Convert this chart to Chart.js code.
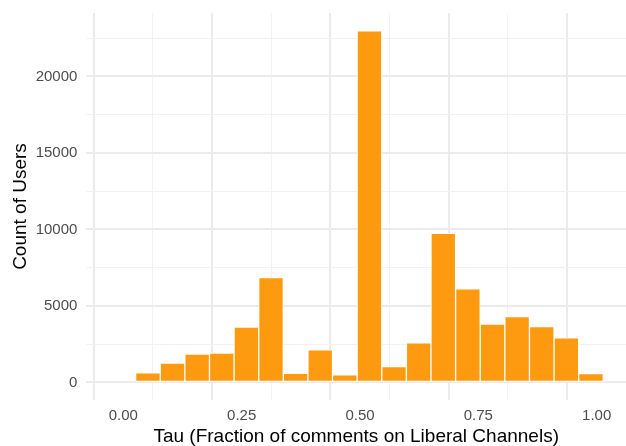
<!DOCTYPE html>
<html>
<head>
<meta charset="utf-8">
<script src="https://cdn.jsdelivr.net/npm/chart.js@4"></script>
<style>
  html, body { margin: 0; padding: 0; background: #ffffff; }
</style>
</head>
<body>
<canvas id="tauChart" width="626" height="446"></canvas>
<script>
// Histogram bins (centre of each bin on the tau axis) and user counts
const binCenters = [0.000, 0.052, 0.104, 0.156, 0.208, 0.260, 0.312, 0.364, 0.416, 0.468,
                    0.520, 0.572, 0.624, 0.676, 0.728, 0.780, 0.832, 0.884, 0.936, 0.988];
const userCounts = [0, 620, 1270, 1850, 1920, 3620, 6850, 590, 2130, 500,
                    22990, 1040, 2590, 9750, 6120, 3820, 4310, 3650, 2920, 570];

// Axis ticks
const xMajorTicks = [0, 0.25, 0.5, 0.75, 1];
const xTickLabels = ['0.00', '0.25', '0.50', '0.75', '1.00'];
const xMinorTicks = [0.125, 0.375, 0.625, 0.875];
const yMajorTicks = [0, 5000, 10000, 15000, 20000];
const yTickLabels = ['0', '5000', '10000', '15000', '20000'];
const yMinorTicks = [2500, 7500, 12500, 17500, 22500];

const barColor = '#FE9A0F';
const gridMajor = '#EBEBEB';
const gridMinor = '#F2F2F2';

function isIn(list, v) {
  return list.some(t => Math.abs(t - v) < 1e-9);
}

// major vs minor gridline look
function gridColor(list) {
  return c => (c.tick && isIn(list, c.tick.value)) ? gridMajor : gridMinor;
}
function gridWidth(list) {
  return c => (c.tick && isIn(list, c.tick.value)) ? 2 : 1;
}

const ctx = document.getElementById('tauChart').getContext('2d');
const tauChart = new Chart(ctx, {
  type: 'bar',
  data: {
    datasets: [{
      label: 'users',
      data: binCenters.map((x, i) => ({ x: x, y: userCounts[i] })),
      backgroundColor: barColor,
      borderColor: '#ffffff',
      borderWidth: 1,
      borderSkipped: false,
      barPercentage: 1.0,
      categoryPercentage: 1.0
    }]
  },
  options: {
    responsive: false,
    animation: false,
    devicePixelRatio: 1,
    layout: { padding: { top: 13, right: 0, bottom: 0, left: 0 } },
    plugins: {
      legend: { display: false },
      tooltip: { enabled: false }
    },
    scales: {
      x: {
        type: 'linear',
        min: -0.078,
        max: 1.062,
        offset: false,
        border: { display: false },
        afterBuildTicks: scale => {
          scale.ticks = xMajorTicks.concat(xMinorTicks).sort((a, b) => a - b).map(v => ({ value: v }));
        },
        afterFit: scale => {
          scale.height = 46;
          scale.paddingLeft = 0;
          scale.paddingRight = 0;
        },
        grid: {
          drawTicks: false,
          color: gridColor(xMajorTicks),
          lineWidth: gridWidth(xMajorTicks)
        },
        ticks: {
          autoSkip: false,
          maxRotation: 0,
          padding: 7,
          color: '#4D4D4D',
          font: { family: 'Liberation Sans', size: 15 },
          callback: value => {
            const i = xMajorTicks.findIndex(t => Math.abs(t - value) < 1e-9);
            return i >= 0 ? xTickLabels[i] : '';
          }
        },
        title: {
          display: true,
          text: 'Tau (Fraction of comments on Liberal Channels)',
          color: '#000000',
          font: { family: 'Liberation Sans', size: 19 },
          padding: { top: 0, bottom: -2 }
        }
      },
      y: {
        type: 'linear',
        min: -1150,
        max: 24150,
        border: { display: false },
        afterBuildTicks: scale => {
          scale.ticks = yMajorTicks.concat(yMinorTicks).sort((a, b) => a - b).map(v => ({ value: v }));
        },
        afterFit: scale => {
          scale.width = 86.4;
          scale.paddingTop = 0;
          scale.paddingBottom = 0;
        },
        grid: {
          drawTicks: false,
          color: gridColor(yMajorTicks),
          lineWidth: gridWidth(yMajorTicks)
        },
        ticks: {
          autoSkip: false,
          padding: 9,
          color: '#4D4D4D',
          font: { family: 'Liberation Sans', size: 15 },
          callback: value => {
            const i = yMajorTicks.indexOf(value);
            return i >= 0 ? yTickLabels[i] : '';
          }
        },
        title: {
          display: true,
          text: 'Count of Users',
          color: '#000000',
          font: { family: 'Liberation Sans', size: 19 },
          padding: { top: 9, bottom: 0 }
        }
      }
    }
  }
});
</script>
</body>
</html>
